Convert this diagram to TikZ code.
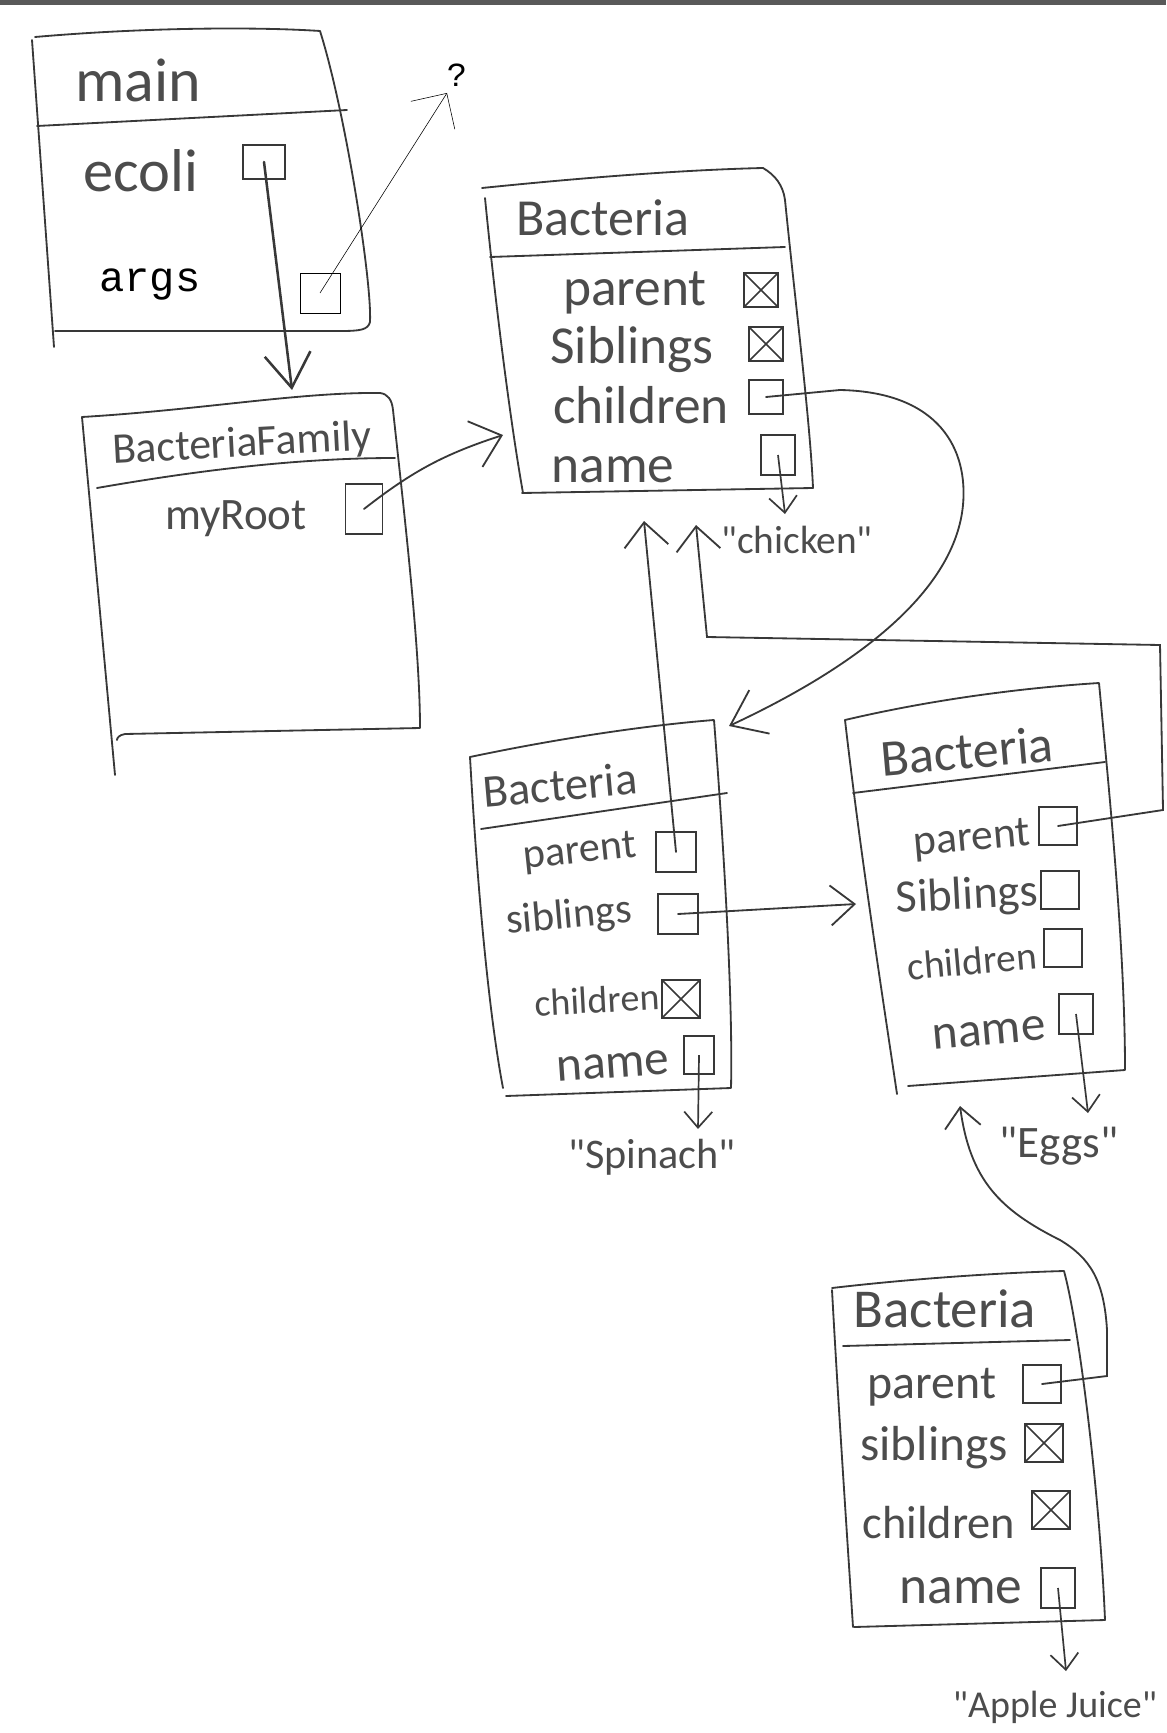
\documentclass[tikz,border=0pt]{standalone}
\usepackage{fontspec}
\newfontfamily\handfont{Carlito}
\newfontfamily\codefont{Liberation Mono}
\usetikzlibrary{arrows.meta,calc}
\definecolor{pencil}{gray}{0.22}
\definecolor{ink}{gray}{0.3}

\begin{document}
\begin{tikzpicture}[x=0.025cm, y=-0.025cm,
  frame/.style={draw=pencil, line width=1.3pt, line join=round, line cap=round},
  ptr/.style={draw=pencil, line width=1.2pt, minimum width=9mm, minimum height=9mm, inner sep=0pt},
  nullptr/.style={ptr, path picture={\draw[pencil, line width=1.2pt]
      (path picture bounding box.south west) -- (path picture bounding box.north east)
      (path picture bounding box.north west) -- (path picture bounding box.south east);}},
  fld/.style={text=ink, inner sep=0pt, font=\handfont\fontsize{#1}{#1}\selectfont},
  link/.style={pencil, line width=1.3pt, line cap=round, -{Straight Barb[length=6mm, width=11mm]}},
  strlink/.style={pencil, line width=1.2pt, -{Straight Barb[length=4mm, width=7mm]}}
]
\useasboundingbox (0,0) rectangle (1166,1733);
% scan edge
\fill[black!65] (0,0) rectangle (1166,5);

% main frame
\draw[frame] (35,37) .. controls (150,27) and (260,27) .. (320,31) .. controls (345,110) and (372,280) .. (370,322) .. controls (368,330) and (360,331) .. (340,331) -- (55,331);
\draw[frame] (32,40) -- (54,347);
\draw[frame] (37,126) -- (347,110);
\node[fld=44pt] (mainlbl) at (138,80) {main};
\node[fld=43pt] (ecolilbl) at (141,171) {ecoli};
\node[font=\codefont\fontsize{30pt}{30pt}\selectfont] (argslbl) at (150,285) {args};
\node[ptr, minimum width=10.5mm, minimum height=8.5mm] (ecoli) at (264,162) {};
\node[draw, thin, minimum size=1cm, inner sep=0pt] (args) at (320,293) {};
\node[font=\codefont\fontsize{24pt}{24pt}\selectfont] (unk) at (457,75) {?};
\coordinate (unkin) at (447,93);
\draw[thin, -{Straight Barb[length=6.5mm, width=13mm]}] (args.center) -- (unkin);

% BacteriaFamily frame
\draw[frame] (82,417) .. controls (200,410) and (300,392) .. (380,393) .. controls (388,394) and (392,400) .. (393,410) .. controls (405,520) and (420,650) .. (420,728) -- (125,734) .. controls (119,735) and (117,738) .. (117,740);
\draw[frame] (82,417) -- (115,775);
\draw[frame] (97,488) .. controls (200,470) and (300,458) .. (395,458);
\node[fld=31pt, rotate=3] (famlbl) at (242,445) {BacteriaFamily};
\node[fld=32pt] (rootlbl) at (236,519) {myRoot};
\node[ptr, minimum width=9.3mm, minimum height=12.5mm] (root) at (364,509) {};
\coordinate (famtop) at (292,390);
\draw[link, line width=1.8pt, -{Straight Barb[length=8.5mm, width=11.5mm]}] (ecoli.center) -- (famtop);

% Bacteria "chicken"
\draw[frame] (482,188) .. controls (580,178) and (680,170) .. (763,168) .. controls (775,175) and (783,185) .. (785,200) .. controls (795,300) and (810,420) .. (813,488) -- (522,493);
\draw[frame] (485,198) .. controls (495,300) and (510,420) .. (523,493);
\draw[frame] (490,257) -- (785,247);
\node[fld=37pt] (b1lbl) at (603,218) {Bacteria};
\node[fld=38pt] (b1parlbl) at (635,293) {parent};
\node[fld=38pt] (b1siblbl) at (632,350) {Siblings};
\node[fld=38pt] (b1chilbl) at (641,405) {children};
\node[fld=38pt] (b1namlbl) at (613,470) {name};
\node[nullptr, minimum size=8.5mm] (b1par) at (761,290) {};
\node[nullptr, minimum size=8.5mm] (b1sib) at (766,344) {};
\node[ptr, minimum size=8.5mm] (b1chi) at (766,397) {};
\node[ptr, minimum width=8.5mm, minimum height=1cm] (b1nam) at (778,455) {};
\node[fld=28pt] (chick) at (797,540) {"chicken"};
\coordinate (chickin) at (785,514);
\draw[strlink] (b1nam.center) -- (chickin);
\coordinate (b1in) at (503,435);
\draw[link, -{Straight Barb[length=7mm, width=12mm]}] (root.center) to[bend left=10] (b1in);

% Bacteria "Spinach"
\draw[frame] (470,757) .. controls (560,738) and (650,725) .. (714,720) .. controls (724,850) and (733,1000) .. (731,1088) -- (506,1096);
\draw[frame] (470,757) .. controls (478,900) and (490,1020) .. (503,1088);
\draw[frame] (481,829) -- (727,793);
\node[fld=33pt, rotate=5] (b2lbl) at (560,785) {Bacteria};
\node[fld=30pt, rotate=6] (b2parlbl) at (580,853) {parent};
\node[fld=30pt, rotate=5] (b2siblbl) at (569,917) {siblings};
\node[fld=27pt, rotate=3] (b2chilbl) at (597,1000) {children};
\node[fld=35pt, rotate=4] (b2namlbl) at (613,1066) {name};
\node[ptr, minimum size=1cm] (b2par) at (676,852) {};
\node[ptr, minimum size=1cm] (b2sib) at (678,914) {};
\node[nullptr, minimum size=0.95cm] (b2chi) at (681,999) {};
\node[ptr, minimum width=7.5mm, minimum height=9.5mm] (b2nam) at (699,1055) {};
\node[fld=30pt] (spin) at (652,1157) {"Spinach"};
\coordinate (spinin) at (698,1129);
\draw[strlink] (b2nam.center) -- (spinin);
\coordinate (b2in) at (729,726);
\draw[link, -{Straight Barb[length=8mm, width=12mm]}] (b1chi.center) -- (840,390) .. controls (940,392) and (968,450) .. (963,505) .. controls (955,590) and (860,665) .. (b2in);
\coordinate (b1in1) at (644,521);
\draw[link] (b2par.center) -- (b1in1);

% Bacteria "Eggs"
\draw[frame] (845,720) .. controls (930,700) and (1020,688) .. (1099,683) .. controls (1110,800) and (1125,950) .. (1125,1070) -- (908,1086);
\draw[frame] (845,720) .. controls (860,850) and (880,980) .. (897,1094);
\draw[frame] (853,793) -- (1105,762);
\node[fld=37pt, rotate=5] (b3lbl) at (967,751) {Bacteria};
\node[fld=31pt, rotate=5] (b3parlbl) at (972,840) {parent};
\node[fld=33pt, rotate=3] (b3siblbl) at (967,897) {Siblings};
\node[fld=28pt, rotate=5] (b3chilbl) at (972,961) {children};
\node[fld=35pt, rotate=5] (b3namlbl) at (989,1033) {name};
\node[ptr, minimum size=0.95cm] (b3par) at (1058,826) {};
\node[ptr, minimum size=0.95cm] (b3sib) at (1060,890) {};
\node[ptr, minimum size=0.95cm] (b3chi) at (1063,948) {};
\node[ptr, minimum width=8.5mm, minimum height=1cm] (b3nam) at (1076,1014) {};
\node[fld=32pt] (eggs) at (1059,1146) {"Eggs"};
\coordinate (eggsin) at (1088,1113);
\draw[strlink] (b3nam.center) -- (eggsin);
\coordinate (b3in) at (856,904);
\draw[link, -{Straight Barb[length=6mm, width=10mm]}] (b2sib.center) -- (b3in);
\coordinate (b1in2) at (696,525);
\draw[link] (b3par.center) -- (1163,810) -- (1160,645) -- (707,637) -- (b1in2);

% Bacteria "Apple Juice"
\draw[frame] (832,1288) .. controls (900,1280) and (990,1273) .. (1064,1271) .. controls (1080,1330) and (1100,1500) .. (1105,1620) -- (854,1627);
\draw[frame] (832,1290) .. controls (838,1400) and (846,1520) .. (853,1627);
\draw[frame] (843,1346) -- (1070,1340);
\node[fld=39pt] (b4lbl) at (945,1309) {Bacteria};
\node[fld=34pt] (b4parlbl) at (932,1387) {parent};
\node[fld=35pt] (b4siblbl) at (934,1448) {siblings};
\node[fld=33pt] (b4chilbl) at (939,1523) {children};
\node[fld=38pt] (b4namlbl) at (961,1591) {name};
\node[ptr, minimum size=0.95cm] (b4par) at (1042,1384) {};
\node[nullptr, minimum size=0.95cm] (b4sib) at (1044,1443) {};
\node[nullptr, minimum size=0.95cm] (b4chi) at (1051,1510) {};
\node[ptr, minimum width=8.5mm, minimum height=1cm] (b4nam) at (1058,1588) {};
\node[fld=27pt] (juice) at (1055,1707) {"Apple Juice"};
\coordinate (juicein) at (1066,1671);
\draw[strlink] (b4nam.center) -- (juicein);
\coordinate (b3in2) at (960,1106);
\draw[link, -{Straight Barb[length=5mm, width=9mm]}] (b4par.center) -- (1107,1376) -- (1107,1330) .. controls (1104,1280) and (1090,1258) .. (1060,1240) .. controls (1000,1210) and (970,1180) .. (b3in2);
\end{tikzpicture}
\end{document}
